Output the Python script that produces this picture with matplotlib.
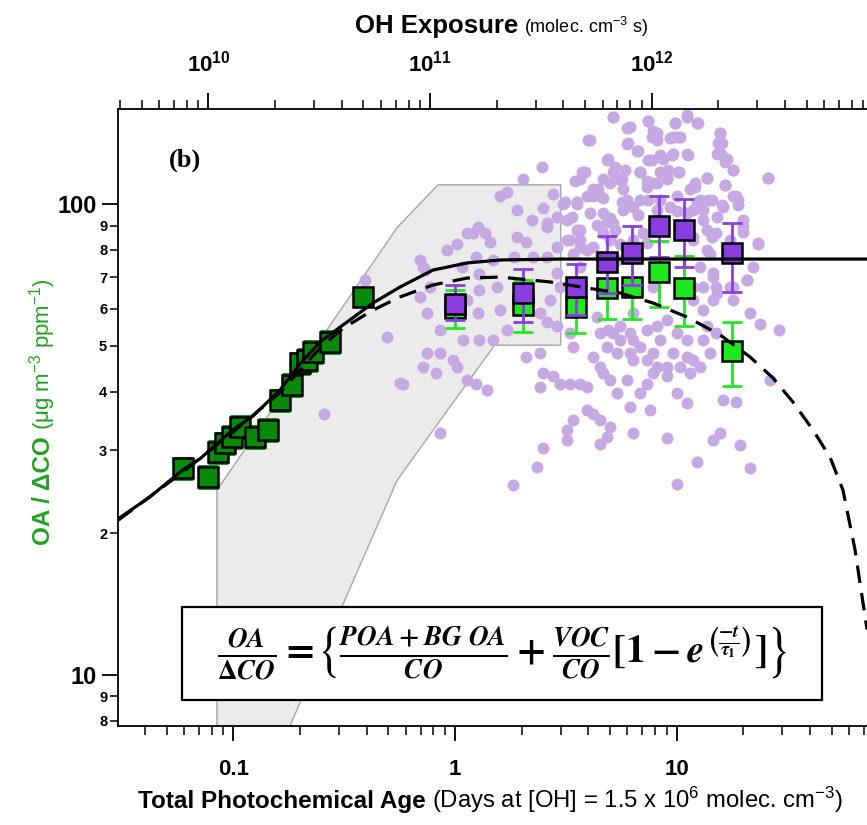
import numpy as np
import matplotlib.pyplot as plt
from matplotlib.patches import Polygon, Rectangle
from matplotlib.ticker import FixedLocator, FixedFormatter, LogLocator, NullFormatter

# ---------------- data ----------------
OH_CONC = 1.5e6          # molec cm-3
SEC_PER_DAY = 86400.0

# early ages (dark green squares)
early_age = [0.0595, 0.0771, 0.0855, 0.0918, 0.0984, 0.1072, 0.1253, 0.1438,
             0.1624, 0.1834, 0.1999, 0.2144, 0.2295, 0.2731, 0.3859]
early_ratio = [27.5, 26.4, 29.8, 31.1, 32.1, 33.7, 32.1, 33.2,
               38.4, 41.3, 46.0, 46.7, 48.6, 51.1, 63.6]
early_err = [1.4, 1.4, 1.6, 1.6, 1.7, 1.8, 1.7, 1.8,
             2.0, 2.2, 2.4, 2.5, 2.6, 2.7, 1.0]

# binned later ages
bin_age = [1.0, 2.02, 3.50, 4.83, 6.27, 8.35, 10.79, 17.7]
green_ratio = [60.1, 61.1, 60.4, 66.3, 66.8, 71.9, 66.5, 48.9]
green_lo = [54.5, 53.5, 53.2, 57.0, 57.1, 60.4, 55.0, 41.2]
green_hi = [65.7, 69.1, 67.6, 75.6, 76.5, 83.7, 77.7, 56.1]
purple_ratio = [61.4, 64.7, 66.6, 75.3, 78.7, 90.1, 88.2, 78.7]
purple_lo = [56.8, 56.3, 58.2, 64.9, 67.4, 77.4, 73.5, 65.2]
purple_hi = [67.4, 72.9, 74.7, 85.6, 89.9, 104.3, 102.6, 91.4]

# individual points (light purple)
scatter_age = [
    5.18, 6.16, 7.45, 9.82, 11.1, 12.5, 4.0, 5.95, 6.72, 7.85, 8.12, 7.72, 8.71, 9.5, 9.66, 10.3,
    11.1, 15.7, 15.4, 15.9, 16.5, 4.84, 25.9,
    2.46, 2.03, 3.73, 3.48, 4.21, 4.51, 5.18, 5.46, 4.67, 5.75, 6.83, 7.33, 8.12, 9.01, 9.17, 10.2,
    12.1, 13.7, 16.5, 18.0, 18.6, 19.0, 16.2, 14.4, 12.7, 11.9, 11.1, 10.0, 7.45, 6.37, 5.95, 3.93,
    3.54, 1.60, 1.71, 2.78, 3.08,
    4.67, 4.84, 4.36, 5.18, 1.90, 2.22, 2.59, 2.88, 3.19, 3.54, 3.67, 2.50, 0.916, 1.02, 1.13, 1.27,
    1.37, 1.44, 1.90, 2.10, 2.26, 2.59, 2.88, 3.19, 13.2, 15.1, 17.4, 19.9, 23.3, 11.9, 14.1, 18.6,
    7.07, 6.37, 5.55, 3.42, 0.695, 1.25, 1.49, 1.20, 2.59, 1.85, 1.28, 1.08, 0.72,
    0.732, 0.77, 0.695, 0.745, 0.949, 1.13, 1.28, 1.27, 1.54, 1.60, 1.71, 0.855, 3.67, 2.88, 2.98,
    2.68, 2.42, 2.59, 2.88, 3.30, 5.18, 5.55, 7.33, 8.12, 9.01, 10.0, 11.1, 13.2, 13.7, 14.6, 15.1,
    17.4, 20.7, 22.2, 21.4, 23.7, 28.8, 6.37, 4.36, 15.1,
    1.49, 1.28, 1.09, 0.855, 0.745, 0.72, 0.825, 0.98, 1.02, 1.13, 1.25, 1.39, 2.10, 2.42, 3.42,
    4.21, 4.51, 4.84, 6.37, 7.85, 7.33, 8.12, 9.01, 10.3, 11.5, 12.7, 14.1, 2.50, 2.78, 2.98, 2.42,
    3.30, 3.67, 3.93, 5.01, 5.95, 6.37, 4.67, 9.01, 10.0, 11.1, 6.83, 5.36, 0.585, 26.4, 16.2, 18.6,
    6.16, 4.21, 4.51, 5.01, 4.84, 3.93, 3.42, 3.19, 3.19, 2.50, 2.34, 1.83, 10.0, 12.3, 21.4, 15.7,
    14.6, 19.3, 9.01, 6.37, 7.58, 4.51, 0.855,
    0.393, 0.496, 0.2565, 0.565,
    5.16, 5.97, 7.42, 9.82, 11.13, 12.35, 4.06, 6.03, 6.62, 7.74, 8.15, 9.33, 10.03, 15.68, 16.01,
    15.2, 16.86, 4.90, 5.27, 5.85, 7.42, 8.41, 9.62, 11.25, 17.95, 25.81, 3.86, 3.66, 4.42, 5.00,
    5.67, 6.83, 7.74, 8.41, 9.04, 10.14, 12.09, 13.70, 16.52, 17.95, 18.91, 16.01, 13.84, 11.48,
    10.03, 8.41, 7.35, 6.83, 5.67, 4.65, 4.19, 3.55, 3.135, 3.37, 4.06, 5.00, 5.73, 6.69, 8.15,
    9.33, 12.35, 13.14, 15.2, 19.91, 23.27, 19.91, 13.70, 14.43, 11.85, 5.27, 4.65, 3.66, 3.30,
    3.66, 4.19, 5.00, 7.35, 13.70, 20.76, 17.95, 14.58, 13.14, 15.2, 11.85,
    4.51, 4.92, 5.55, 6.16, 6.83, 5.36, 6.16, 8.41, 9.66, 11.1, 11.9, 7.85, 7.33,
    3.93, 4.51, 5.36, 7.85, 12.7, 14.6, 11.9, 13.2, 18.0]
scatter_ratio = [
    153, 146, 150, 149, 155, 149, 137, 134, 130, 143, 137, 124, 125, 127, 139, 139,
    128, 142, 135, 128, 123, 124, 114,
    120, 113, 117, 112, 108, 104, 117, 113, 113, 108, 117, 112, 111, 113, 118, 117,
    109, 114, 110, 118, 104, 99.6, 98.8, 102, 102, 97.2, 95.6, 97, 102, 98.8, 102, 104,
    100, 104, 106, 105, 100,
    95.6, 91.8, 90.3, 91.1, 97.2, 92.6, 89.6, 94.1, 92.6, 88.1, 83.9, 98.0, 79.9, 82.5, 86.7, 89.6,
    86.7, 83.2, 85.3, 83.2, 77.3, 77.3, 81.2, 83.9, 92.6, 86.7, 83.9, 89.6, 82.5, 85.3, 78.6, 78.6,
    86.7, 83.9, 82.5, 78.6, 76.1, 77.3, 76.1, 86.7, 91.1, 77.3, 71.2, 73.6, 73.6,
    72.5, 66.8, 63.6, 58.7, 60.6, 62.6, 65.7, 58.7, 66.8, 59.6, 54.1, 54.1, 73.6, 71.3, 66.8,
    62.6, 58.7, 56.3, 55.0, 53.2, 53.2, 55.0, 54.1, 55.0, 56.8, 53.2, 51.4, 51.4, 55.0, 62.6, 66.8,
    66.8, 69.0, 73.6, 58.7, 55.8, 54.1, 58.7, 57.7, 53.2,
    51.4, 51.4, 51.4, 48.2, 48.2, 45.2, 43.8, 46.7, 45.2, 42.3, 41.6, 40.3, 47.4, 48.2, 49.8,
    47.4, 45.2, 49.8, 51.4, 48.2, 46.7, 45.2, 45.2, 45.2, 43.8, 45.2, 48.2, 43.8, 43.1, 41.6, 41.0,
    41.6, 41.6, 41.0, 42.3, 42.3, 46.7, 43.8, 43.1, 39.7, 37.8, 39.7, 39.7, 41.6, 42.3, 38.4, 38.1,
    37.1, 35.9, 34.8, 33.6, 32.1, 36.5, 34.8, 33.1, 31.6, 30.3, 27.7, 25.3, 25.5, 28.4, 27.5, 32.6,
    31.6, 30.8, 31.9, 32.6, 36.5, 31.0, 32.6,
    69.1, 52.3, 35.9, 41.7,
    153, 145, 150, 149, 153, 149, 137, 135, 130, 139, 142, 138, 139, 142, 135,
    128, 125, 125, 120, 118, 124, 127, 128, 127, 118, 114, 117, 113, 108, 111,
    113, 117, 111, 117, 114, 117, 111, 114, 110, 104, 102, 99.7, 102, 108,
    104, 102, 109, 102, 101, 103, 104, 101, 101, 94.0, 95.8, 93.5, 97.3, 94.9, 97.3,
    98.7, 101, 97.3, 94.0, 92.6, 82.8, 87.3, 88.2, 85.2, 84.0, 88.2, 86.9, 88.2, 84.0,
    81.2, 81.2, 84.0, 82.8, 80.0, 69.1, 66.7, 70.1, 66.7, 64.8, 66.7,
    53.2, 54.1, 51.4, 53.2, 49.8, 48.2, 48.2, 51.4, 48.2, 47.4, 46.7, 43.8, 41.6,
    79.9, 77.3, 76.1, 66.8, 73.6, 71.3, 62.6, 59.6, 62.6]

# fit curves
fit_age = [0.0302, 0.0421, 0.0593, 0.0708, 0.0997, 0.1227, 0.1624, 0.1999, 0.2461,
           0.3125, 0.4268, 0.5648, 0.796, 1.133, 1.596, 2.976, 80.0]
fit_ratio = [21.45, 23.9, 27.3, 28.8, 33.2, 35.5, 40.3, 45.8, 51.0,
             55.4, 61.7, 66.7, 72.5, 75.05, 76.15, 76.5, 76.5]
decay_age = [0.0302, 0.0593, 0.0997, 0.1624, 0.2461, 0.3125, 0.4268, 0.5648, 0.796, 1.133,
             1.596, 2.683, 3.94, 5.55, 7.82, 11.13, 15.68, 21.41, 27.19, 33.46, 41.19,
             49.15, 56.25, 63.7, 72.2]
decay_ratio = [21.3, 27.0, 32.8, 39.8, 49.5, 54.5, 59.6, 63.55, 67.4, 69.7,
               70.05, 68.4, 66.4, 64.8, 61.7, 57.6, 52.8, 47.4, 42.76, 38.0, 33.15,
               29.04, 24.7, 18.5, 12.5]

# shaded range
band_age = [0.0844, 0.0844, 0.547, 0.838, 3.0, 3.0, 1.51, 0.796, 0.548, 0.180]
band_ratio = [7.79, 24.7, 89.1, 110, 110, 50.2, 50.2, 33.1, 25.9, 7.79]

# tick labels
y_major = [10, 100]
y_major_labels = ['10', '100']
y_minor = [8, 9, 20, 30, 40, 50, 60, 70, 80, 90]
y_minor_labels = ['8', '9', '2', '3', '4', '5', '6', '7', '8', '9']
x_major = [0.1, 1, 10]
x_major_labels = ['0.1', '1', '10']
top_major = [1e10, 1e11, 1e12]
top_major_labels = [r'10$\mathregular{^{10}}$', r'10$\mathregular{^{11}}$', r'10$\mathregular{^{12}}$']

# ---------------- styling ----------------
DARK_GREEN = '#078a07'
BRIGHT_GREEN = '#1fe81f'
PURPLE = '#8b3ee0'
LAVENDER = '#c6a9e3'
LABEL_GREEN = '#22a122'

plt.rcParams['font.family'] = ['Liberation Sans', 'DejaVu Sans']
plt.rcParams['font.weight'] = 'bold'
plt.rcParams['mathtext.fontset'] = 'custom'
plt.rcParams['mathtext.it'] = 'STIXGeneral:italic:bold'
plt.rcParams['mathtext.rm'] = 'STIXGeneral:bold'
plt.rcParams['mathtext.bf'] = 'STIXGeneral:bold'
plt.rcParams['mathtext.fallback'] = 'stix'

W, H = 867, 825
fig = plt.figure(figsize=(W / 100, H / 100), dpi=100)
ax = fig.add_axes([118 / W, 99 / H, 1 - 118 / W, 617 / H])

ax.set_xscale('log')
ax.set_yscale('log')
xlim = (0.0302, 72.2)
ax.set_xlim(*xlim)
ax.set_ylim(7.79, 159.4)

# shaded band
ax.add_patch(Polygon(np.column_stack([band_age, band_ratio]), closed=True,
                     facecolor='#ebebeb', edgecolor='#a6a6a6', lw=1.0, zorder=1))

# scatter of individual points
ax.plot(scatter_age, scatter_ratio, 'o', ms=8.6, color=LAVENDER, mec='none', zorder=2)

# binned green and purple squares
g = np.array(green_ratio)
ax.errorbar(bin_age, g, yerr=[g - np.array(green_lo), np.array(green_hi) - g],
            fmt='none', ecolor=BRIGHT_GREEN, elinewidth=2, capsize=7.5, capthick=2, zorder=3)
ax.plot(bin_age, g, 's', ms=15, mfc=BRIGHT_GREEN, mec='black', mew=1.8, zorder=4)
p = np.array(purple_ratio)
ax.errorbar(bin_age, p, yerr=[p - np.array(purple_lo), np.array(purple_hi) - p],
            fmt='none', ecolor=PURPLE, elinewidth=2, capsize=7.5, capthick=2, zorder=5)
ax.plot(bin_age, p, 's', ms=15, mfc=PURPLE, mec='black', mew=1.8, zorder=6)

# early points
ax.errorbar(early_age, early_ratio, yerr=early_err, fmt='none', ecolor=DARK_GREEN,
            elinewidth=2, capsize=7.5, capthick=2, zorder=6.5)
ax.plot(early_age, early_ratio, 's', ms=15, mfc=DARK_GREEN, mec='black', mew=1.8, zorder=7)

# fit curves
ax.plot(fit_age, fit_ratio, '-', color='black', lw=2.3, zorder=8)
ax.plot(decay_age, decay_ratio, color='black', lw=2.3, ls=(0, (5.5, 3.2)), zorder=8)

# equation box
ax.add_patch(Rectangle((0.0854, 0.0421), 0.8545, 0.1507, transform=ax.transAxes,
                       facecolor='white', edgecolor='black', lw=1.6, zorder=9))
eq = (r'$\frac{OA}{\Delta CO} = \left\{\frac{POA + BG\ OA}{CO} + \frac{VOC}{CO}'
      r'\left[1 - e^{\left(\frac{-t}{\tau_1}\right)}\right]\right\}$')
ax.text(0.5127, 0.1175, eq, transform=ax.transAxes, ha='center', va='center',
        fontsize=28, zorder=10)

ax.text(0.0895, 0.917, '(b)', transform=ax.transAxes, ha='center', va='center',
        fontsize=19, family='Liberation Serif', fontweight='bold')

# axes, ticks
for s in ['top', 'right']:
    ax.spines[s].set_visible(False)
for s in ['left', 'bottom']:
    ax.spines[s].set_linewidth(1.3)

ax.xaxis.set_major_locator(FixedLocator(x_major))
ax.xaxis.set_major_formatter(FixedFormatter(x_major_labels))
ax.xaxis.set_minor_locator(LogLocator(base=10, subs=np.arange(2, 10), numticks=20))
ax.xaxis.set_minor_formatter(NullFormatter())
ax.yaxis.set_major_locator(FixedLocator(y_major))
ax.yaxis.set_major_formatter(FixedFormatter(y_major_labels))
ax.yaxis.set_minor_locator(FixedLocator(y_minor))
ax.yaxis.set_minor_formatter(FixedFormatter(y_minor_labels))

ax.tick_params(axis='x', which='major', direction='out', length=11, width=1.3,
               labelsize=16, pad=13)
ax.tick_params(axis='x', which='minor', direction='out', length=6.5, width=1.1)
ax.tick_params(axis='y', which='major', direction='out', length=11.5, width=1.3,
               labelsize=17, pad=4)
ax.tick_params(axis='y', which='minor', direction='out', length=5.8, width=1.1,
               labelsize=10.5, pad=2)
ax.tick_params(top=False, right=False, which='both')

# top axis: OH exposure
k = OH_CONC * SEC_PER_DAY
ax2 = ax.twiny()
ax2.set_xscale('log')
ax2.set_xlim(xlim[0] * k, xlim[1] * k)
for s in ['bottom', 'left', 'right']:
    ax2.spines[s].set_visible(False)
ax2.spines['top'].set_linewidth(1.3)
ax2.xaxis.set_major_locator(FixedLocator(top_major))
ax2.xaxis.set_major_formatter(FixedFormatter(top_major_labels))
ax2.xaxis.set_minor_locator(LogLocator(base=10, subs=np.arange(2, 10), numticks=20))
ax2.xaxis.set_minor_formatter(NullFormatter())
ax2.tick_params(axis='x', which='major', direction='out', length=11.5, width=1.3,
                labelsize=16, pad=12)
ax2.tick_params(axis='x', which='minor', direction='out', length=6.5, width=1.1)


def two_part_label(x0, y0, bold_text, plain_text, bold_size, plain_size,
                   color='black', vertical=False, gap=6):
    """Bold title followed by a smaller plain unit string, placed end to end."""
    rot = 90 if vertical else 0
    t1 = fig.text(x0 / W, 1 - y0 / H, bold_text, ha='left', va='baseline', rotation=rot,
                  rotation_mode='anchor', fontsize=bold_size, fontweight='bold', color=color)
    fig.canvas.draw()
    bb = t1.get_window_extent(fig.canvas.get_renderer())
    if vertical:
        pos = (x0 / W, (bb.y1 + gap) / H)
    else:
        pos = ((bb.x1 + gap) / W, 1 - y0 / H)
    fig.text(pos[0], pos[1], plain_text, ha='left', va='baseline', rotation=rot,
             rotation_mode='anchor', fontsize=plain_size, fontweight='normal', color=color)


two_part_label(355, 33, 'OH Exposure', r'(molec. cm$\mathregular{^{-3}}$ s)', 18.5, 13)
two_part_label(138, 808, 'Total Photochemical Age',
               r'(Days at [OH] = 1.5 x 10$\mathregular{^{6}}$ molec. cm$\mathregular{^{-3}}$)',
               17.5, 17.2)
two_part_label(50, 545, 'OA / ΔCO', r'(μg m$\mathregular{^{-3}}$ ppm$\mathregular{^{-1}}$)',
               17.5, 16, color=LABEL_GREEN, vertical=True)

fig.savefig('out.png', dpi=100)
